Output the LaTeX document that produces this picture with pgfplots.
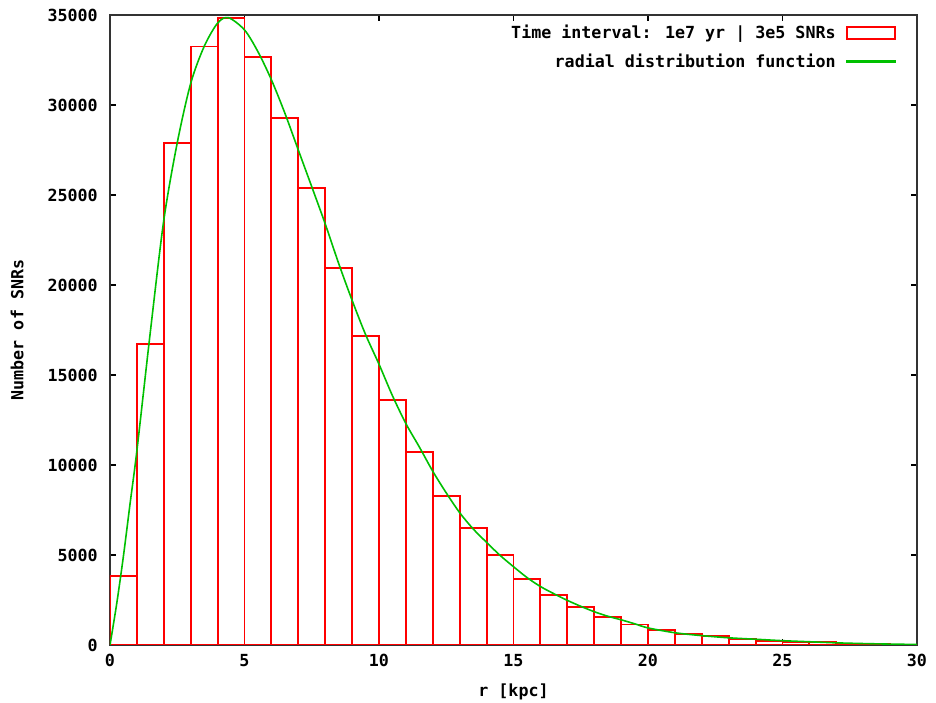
\documentclass[border=0pt]{standalone}
\usepackage{fontspec}
\setmainfont{DejaVu Sans Mono}
\usepackage{pgfplots}
\pgfplotsset{compat=1.18}
\definecolor{gpred}{RGB}{255,0,0}
\definecolor{gpgreen}{RGB}{0,192,0}
\begin{document}
\begin{tikzpicture}
\useasboundingbox (-82.5pt,-43.5pt) rectangle (619.5pt,483.75pt);
\begin{axis}[
  at={(0,0)}, anchor=south west,
  scale only axis, width=605.25pt, height=472.5pt,
  xmin=0, xmax=30, ymin=0, ymax=35000,
  xtick={0,5,...,30}, ytick={0,5000,...,35000},
  scaled y ticks=false,
  /pgf/number format/assume math mode=true,
  /pgf/number format/set thousands separator={},
  tick align=inside, major tick length=4.5pt,
  tick style={black, line width=0.8pt},
  axis line style={black!80, line width=1pt},
  ticklabel style={font=\fontsize{12.5}{14}\selectfont\bfseries},
  yticklabel style={anchor=east, inner sep=0pt, xshift=-9pt},
  xticklabel style={anchor=north, inner sep=0pt, yshift=-7pt},
  xlabel={r [kpc]}, ylabel={Number of SNRs},
  every axis x label/.style={at={(axis description cs:0.5,-0.0746)}, anchor=center,
    font=\fontsize{12.5}{14}\selectfont\bfseries},
  every axis y label/.style={at={(axis description cs:-0.115,0.5)}, anchor=center, rotate=90,
    font=\fontsize{12.5}{14}\selectfont\bfseries},
  legend plot pos=right,
  legend cell align=right,
  legend style={draw=none, fill=none, at={(axis description cs:1,1)}, anchor=north east,
    xshift=-12.5pt, yshift=-3.5pt, row sep=5.5pt,
    font=\fontsize{12.5}{14}\selectfont\bfseries,
    nodes={inner sep=2pt}},
]
\addplot[draw=gpred, line width=1.4pt, ybar interval, fill=none,
  legend image code/.code={\path (0pt,0pt); \draw[draw=gpred, line width=1.2pt] (6pt,-4.5pt) rectangle (42pt,4.5pt);}]
coordinates {
(0,3830) (1,16700) (2,27900) (3,33250) (4,34850) (5,32680) (6,29300) (7,25370)
(8,20930) (9,17170) (10,13600) (11,10740) (12,8280) (13,6500) (14,5000)
(15,3690) (16,2780) (17,2110) (18,1560) (19,1140) (20,850) (21,600) (22,480)
(23,340) (24,240) (25,160) (26,170) (27,60) (28,40) (29,25) (30,25)
};
\addlegendentry{Time interval: 1e7 yr | 3e5 SNRs}
\addplot[draw=gpgreen, line width=1.2pt, smooth,
  legend image code/.code={\path (0pt,0pt); \fill[fill=gpgreen] (6pt,-0.6pt) rectangle (42pt,0.6pt);}]
coordinates {
(0,0) (0.25,2300) (0.5,4950) (0.75,7900) (1,10800) (1.5,17400) (2,23600)
(2.5,27900) (3,31200) (3.5,33250) (4,34550) (4.4,34850) (5,34170) (5.5,32960)
(6,31400) (6.5,29550) (7,27500) (7.5,25460) (8,23400) (8.5,21200) (9,19150)
(9.5,17250) (10,15600) (10.5,13850) (11,12300) (11.5,11000) (12,9650)
(12.5,8450) (13,7350) (13.5,6450) (14,5700) (14.5,4980) (15,4350) (15.5,3750)
(16,3250) (16.5,2850) (17,2480) (17.5,2150) (18,1850) (18.5,1600) (19,1400)
(19.5,1180) (20,950) (21,680) (22,520) (23,400) (24,320) (25,240) (26,180)
(27,120) (28,80) (29,50) (30,30)
};
\addlegendentry{radial distribution function}
\end{axis}
\end{tikzpicture}
\end{document}
